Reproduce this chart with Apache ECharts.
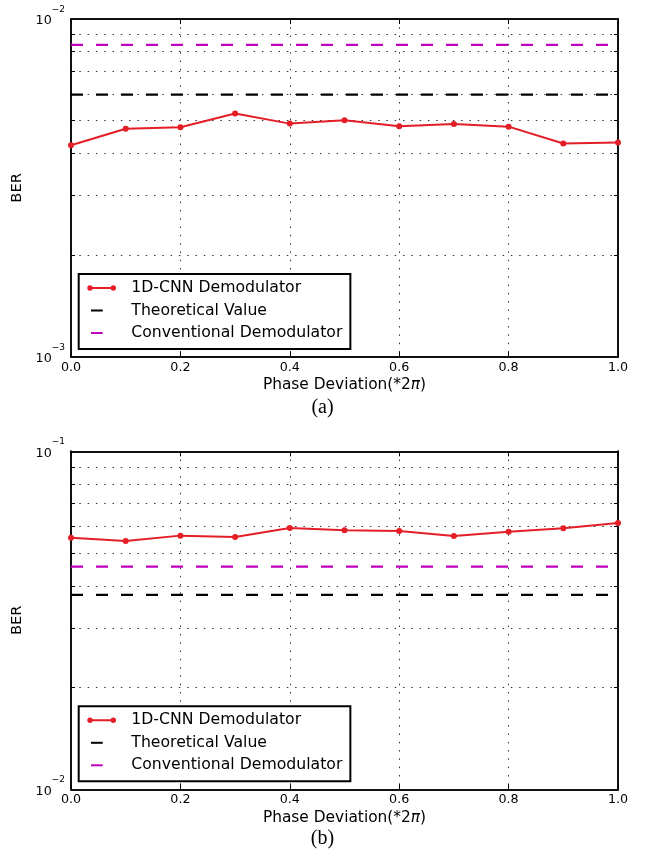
<!DOCTYPE html>
<html>
<head>
<meta charset="utf-8">
<title>BER vs Phase Deviation</title>
<script src="https://cdn.jsdelivr.net/npm/echarts@6/dist/echarts.min.js"></script>
<style>
  html, body { margin: 0; padding: 0; background: #fff; }
  #chart { width: 645px; height: 853px; }
</style>
</head>
<body>
<div id="chart"></div>
<script>
// Phase deviation samples (in units of 2*pi)
const phase = [0, 0.1, 0.2, 0.3, 0.4, 0.5, 0.6, 0.7, 0.8, 0.9, 1.0];
// Reference lines span the full x range
const lineEnds = [0, 1];

// Panel (a)
const cnnA = [0.00423, 0.00473, 0.00478, 0.00525, 0.00490, 0.00501, 0.00481, 0.00489, 0.00480, 0.00428, 0.00431];
const theoreticalA = [0.00597, 0.00597];
const conventionalA = [0.00838, 0.00838];
const yRangeA = [0.001, 0.01];
const minorTicksA = [0.002, 0.003, 0.004, 0.005, 0.006, 0.007, 0.008, 0.009];

// Panel (b)
const cnnB = [0.0555, 0.0543, 0.0563, 0.0558, 0.0593, 0.0584, 0.0581, 0.0562, 0.0578, 0.0592, 0.0614];
const theoreticalB = [0.0376, 0.0376];
const conventionalB = [0.0456, 0.0456];
const yRangeB = [0.01, 0.1];
const minorTicksB = [0.02, 0.03, 0.04, 0.05, 0.06, 0.07, 0.08, 0.09];

const seriesNames = ['1D-CNN Demodulator', 'Theoretical Value', 'Conventional Demodulator'];
const captions = ['(a)', '(b)'];
const xName = 'Phase Deviation(*2';
const yName = 'BER';

const RED = '#e41e26';
const BLACK = '#000000';
const MAGENTA = '#bf00bf';
const SANS = 'DejaVu Sans';

const frameLine = { show: true, onZero: false, lineStyle: { color: '#111', width: 2 } };
const gridDots = { show: true, lineStyle: { color: '#333', width: 1, type: [1.5, 6.8] } };

// Legend icons: 39x6 boxes (lone move-to points pin the box size)
const iconCnn = 'path://M0,0M39,6M0,3a2.7,2.7 0 1,1 5.4,0a2.7,2.7 0 1,1 -5.4,0zM23.3,3a2.7,2.7 0 1,1 5.4,0a2.7,2.7 0 1,1 -5.4,0zM5,2L23.7,2L23.7,4L5,4Z';
const iconDash = 'path://M0,0M39,6M3.7,2L15.4,2L15.4,4L3.7,4Z';

function powerLabel(v) {
  const e = Math.round(Math.log10(v));
  return '{b|10}{s|\u2212' + Math.abs(e) + '}';
}

const grids = [
  { left: 71, right: 27, top: 19, bottom: 496.3 },
  { left: 71, right: 27, top: 451.3, bottom: 63.7 }
];

function xAxes(gi) {
  return [
    {
      gridIndex: gi, type: 'value', min: 0, max: 1, interval: 0.2, position: 'bottom',
      axisLine: frameLine,
      axisTick: { inside: true, length: 5, lineStyle: { color: '#000', width: 1 } },
      axisLabel: { margin: 4, fontSize: 12.7, color: '#000', fontFamily: SANS,
                   formatter: v => v.toFixed(1) },
      splitLine: gridDots,
      name: '{n|' + xName + '}{i|\u03c0}{n|)}',
      nameLocation: 'middle', nameGap: 21,
      nameTextStyle: {
        rich: {
          n: { fontSize: 15.4, fontFamily: SANS, color: '#000' },
          i: { fontSize: 15.4, fontFamily: SANS, fontStyle: 'italic', color: '#000' }
        }
      }
    },
    {
      gridIndex: gi, type: 'value', min: 0, max: 1, interval: 0.2, position: 'top',
      axisLine: frameLine,
      axisTick: { inside: true, length: 5, lineStyle: { color: '#000', width: 1 } },
      axisLabel: { show: false },
      splitLine: { show: false }
    }
  ];
}

function yAxes(gi, range, minors) {
  return [
    {
      gridIndex: gi, type: 'log', logBase: 10, min: range[0], max: range[1], position: 'left',
      axisLine: frameLine,
      axisTick: { inside: true, length: 4, customValues: minors, lineStyle: { color: '#000', width: 1 } },
      axisLabel: {
        customValues: range, margin: 6, formatter: powerLabel,
        rich: {
          b: { fontSize: 12.7, fontFamily: SANS, color: '#000', padding: [4, 0, 0, 0] },
          s: { fontSize: 9, fontFamily: SANS, color: '#000', padding: [0, 0, 19, 0] }
        }
      },
      splitLine: gridDots,
      name: yName, nameLocation: 'middle', nameGap: 44,
      nameTextStyle: { fontSize: 14.7, fontFamily: SANS, color: '#000' }
    },
    {
      gridIndex: gi, type: 'log', logBase: 10, min: range[0], max: range[1], position: 'right',
      axisLine: frameLine,
      axisTick: { inside: true, length: 4, customValues: minors, lineStyle: { color: '#000', width: 1 } },
      axisLabel: { show: false },
      splitLine: { show: false }
    }
  ];
}

function panelSeries(gi, cnn, theo, conv) {
  const ax = gi * 2;
  return [
    {
      name: seriesNames[0], type: 'line', xAxisIndex: ax, yAxisIndex: ax,
      data: phase.map((x, k) => [x, cnn[k]]),
      symbol: 'circle', symbolSize: 6,
      lineStyle: { color: RED, width: 2 }, itemStyle: { color: RED }, z: 5
    },
    {
      name: seriesNames[1], type: 'line', xAxisIndex: ax, yAxisIndex: ax,
      data: lineEnds.map((x, k) => [x, theo[k]]),
      symbol: 'none',
      lineStyle: { color: BLACK, width: 2.3, type: [12, 13] }, itemStyle: { color: BLACK }, z: 4
    },
    {
      name: seriesNames[2], type: 'line', xAxisIndex: ax, yAxisIndex: ax,
      data: lineEnds.map((x, k) => [x, conv[k]]),
      symbol: 'none',
      lineStyle: { color: MAGENTA, width: 2.3, type: [12, 13] }, itemStyle: { color: MAGENTA }, z: 4
    }
  ];
}

function legendAt(top) {
  return {
    orient: 'vertical', left: 78.7, top: top,
    padding: [6, 8, 8, 8.6],
    borderColor: '#000', borderWidth: 2, backgroundColor: '#fff',
    itemWidth: 39, itemHeight: 6, itemGap: 6.5,
    selectedMode: false,
    textStyle: { fontSize: 15.7, lineHeight: 16, fontFamily: SANS, color: '#000' },
    data: [
      { name: seriesNames[0], icon: iconCnn, itemStyle: { color: RED, borderWidth: 0 } },
      { name: seriesNames[1], icon: iconDash, itemStyle: { color: BLACK, borderWidth: 0 } },
      { name: seriesNames[2], icon: iconDash, itemStyle: { color: MAGENTA, borderWidth: 0 } }
    ]
  };
}

const chart = echarts.init(document.getElementById('chart'), null, { renderer: 'canvas' });
chart.setOption({
  animation: false,
  backgroundColor: '#fff',
  title: [
    { text: captions[0], left: 'center', top: 398, padding: 0,
      textStyle: { fontFamily: 'Liberation Serif', fontSize: 20, fontWeight: 'normal', color: '#000' } },
    { text: captions[1], left: 'center', top: 829, padding: 0,
      textStyle: { fontFamily: 'Liberation Serif', fontSize: 20, fontWeight: 'normal', color: '#000' } }
  ],
  grid: grids,
  xAxis: [...xAxes(0), ...xAxes(1)],
  yAxis: [...yAxes(0, yRangeA, minorTicksA), ...yAxes(1, yRangeB, minorTicksB)],
  legend: [legendAt(274), legendAt(706.3)],
  series: [
    ...panelSeries(0, cnnA, theoreticalA, conventionalA),
    ...panelSeries(1, cnnB, theoreticalB, conventionalB)
  ]
});
</script>
</body>
</html>
